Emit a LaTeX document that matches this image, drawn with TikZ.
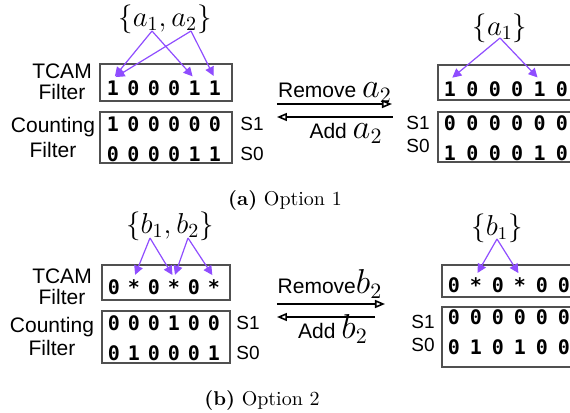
\documentclass[tikz,border=0pt]{standalone}
\usepackage{fontspec}
\usepackage{amsmath}
\usetikzlibrary{arrows.meta}
\newfontfamily\helv{Liberation Sans}
\newfontfamily\mono{DejaVu Sans Mono}
\definecolor{pickpurple}{RGB}{143,77,255}
\definecolor{boxgray}{RGB}{80,80,80}

% one row of filter bits: name, first x, y, step, bits
\newcommand{\bitrow}[5]{%
  \foreach \b [count=\i] in {#5}
    \node[bit] (#1\i) at ({#2+(\i-1)*#4},#3) {\b};
}

\begin{document}
\begin{tikzpicture} [ x=0.5pt, y=-0.5pt,
    bit/.style={font=\mono\bfseries\fontsize{10}{10}\selectfont, text height=7pt, text depth=0pt, inner sep=1pt},
    lbl/.style={font=\helv\fontsize{10.5}{10.5}\selectfont, align=center, inner sep=0pt},
    side/.style={font=\helv\fontsize{9.5}{9.5}\selectfont, inner sep=0pt},
    setlbl/.style={font=\fontsize{14.5}{14.5}\selectfont, inner sep=0pt, anchor=base},
    oplbl/.style={font=\helv\fontsize{10.5}{10.5}\selectfont, inner sep=0pt, anchor=base},
    capt/.style={font=\fontsize{10}{10}\selectfont, inner sep=0pt},
    fbox/.style={draw=boxgray, line width=1.1pt},
    pick/.style={draw=pickpurple, line width=0.6pt, -{Triangle[length=4.5pt,width=4.5pt]}, shorten >=1.5pt},
    move/.style={line width=0.8pt, -{Triangle[open,length=5pt,width=4pt]}},
    ]
    \useasboundingbox (0,0) rectangle (570,413);
    \clip (0,0) rectangle (570,413);

    % option 1, before
    \draw[fbox] (100,64) rectangle (232,101);
    \draw[fbox] (100,112) rectangle (232,163);
    \bitrow{ta}{113}{88}{20.4}{1,0,0,0,1,1}
    \bitrow{ca}{113}{124}{20.4}{1,0,0,0,0,0}
    \bitrow{da}{113}{154}{20.4}{0,0,0,0,1,1}
    \node[lbl, anchor=north] (tcamA) at (62,63) {TCAM\\Filter};
    \node[lbl, anchor=north] (cntA) at (53,117) {Counting\\[2pt]Filter};
    \node[side] (s1a) at (252,124) {S1};
    \node[side] (s0a) at (252,154) {S0};
    \node[setlbl] (setA) at (165,26) {$\{a_1,a_2\}$};
    \coordinate (va1) at (152,31);
    \coordinate (va2) at (191,31);
    \draw[pick] (va1) -- (ta1.north);
    \draw[pick] (va1) -- (ta5.north);
    \draw[pick] (va2) -- (ta1.north);
    \draw[pick] (va2) -- (ta6.north);

    % option 1, remove / add
    \coordinate (ra1) at (277,104);
    \coordinate (ra2) at (392,104);
    \coordinate (la1) at (393,117);
    \coordinate (la2) at (277,117);
    \draw[move] (ra1) -- (ra2);
    \draw[move] (la1) -- (la2);
    \node[oplbl] (remA) at (335,97) {Remove {\fontsize{16}{16}\selectfont$a_2$}};
    \node[oplbl] (addA) at (346,138) {Add {\fontsize{16}{16}\selectfont$a_2$}};

    % option 1, after
    \draw[fbox] (438,65) rectangle (600,100);
    \draw[fbox] (438,112) rectangle (600,162);
    \bitrow{tb}{450}{89}{22.4}{1,0,0,0,1,0}
    \bitrow{cb}{450}{123}{22.4}{0,0,0,0,0,0}
    \bitrow{db}{450}{153}{22.4}{1,0,0,0,1,0}
    \node[side] (s1b) at (418,122.5) {S1};
    \node[side] (s0b) at (418,146) {S0};
    \node[setlbl, font=\fontsize{14}{14}\selectfont] (setB) at (500,35) {$\{a_1\}$};
    \coordinate (vb1) at (500,38);
    \draw[pick] (vb1) -- (tb1.north);
    \draw[pick] (vb1) -- (tb5.north);

    \node[capt] (capA) at (285,200) {\textbf{(a)} Option 1};

    % option 2, before
    \draw[fbox] (102,265) rectangle (230,300);
    \draw[fbox] (102,311) rectangle (230,363);
    \bitrow{tc}{114}{287}{20}{0,*,0,*,0,*}
    \bitrow{cc}{114}{323}{20}{0,0,0,1,0,0}
    \bitrow{dc}{114}{353}{20}{0,1,0,0,0,1}
    \node[lbl, anchor=north] (tcamC) at (62,268) {TCAM\\Filter};
    \node[lbl, anchor=north] (cntC) at (52,317) {Counting\\[1pt]Filter};
    \node[side] (s1c) at (248,323) {S1};
    \node[side] (s0c) at (248,353) {S0};
    \node[setlbl, font=\fontsize{14}{14}\selectfont] (setC) at (170,233) {$\{b_1,b_2\}$};
    \coordinate (vc1) at (150,238);
    \coordinate (vc2) at (188,238);
    \draw[pick] (vc1) -- (tc2.north);
    \draw[pick] (vc1) -- (tc4.north);
    \draw[pick] (vc2) -- (tc4.north);
    \draw[pick] (vc2) -- (tc6.north);

    % option 2, remove / add
    \coordinate (rc1) at (277,304);
    \coordinate (rc2) at (385,304);
    \coordinate (lc1) at (375,317);
    \coordinate (lc2) at (277,317);
    \draw[move] (rc1) -- (rc2);
    \draw[move] (lc1) -- (lc2);
    \node[oplbl] (remC) at (330,293) {Remove{\fontsize{16}{16}\selectfont$b_2$}};
    \node[oplbl] (addC) at (333,338) {Add {\fontsize{16}{16}\selectfont$b_2$}};

    % option 2, after
    \draw[fbox] (442,265) rectangle (600,297);
    \draw[fbox] (442,307) rectangle (600,367);
    \bitrow{td}{454}{285}{22}{0,*,0,*,0,0}
    \bitrow{cd}{454}{317}{22}{0,0,0,0,0,0}
    \bitrow{dd}{454}{347}{22}{0,1,0,1,0,0}
    \node[side] (s1d) at (423,322) {S1};
    \node[side] (s0d) at (423,345) {S0};
    \node[setlbl, font=\fontsize{13.5}{13.5}\selectfont] (setD) at (497,235) {$\{b_1\}$};
    \coordinate (vd1) at (497,239);
    \draw[pick] (vd1) -- (td2.north);
    \draw[pick] (vd1) -- (td4.north);

    \node[capt] (capC) at (262,400) {\textbf{(b)} Option 2};
\end{tikzpicture}
\end{document}
